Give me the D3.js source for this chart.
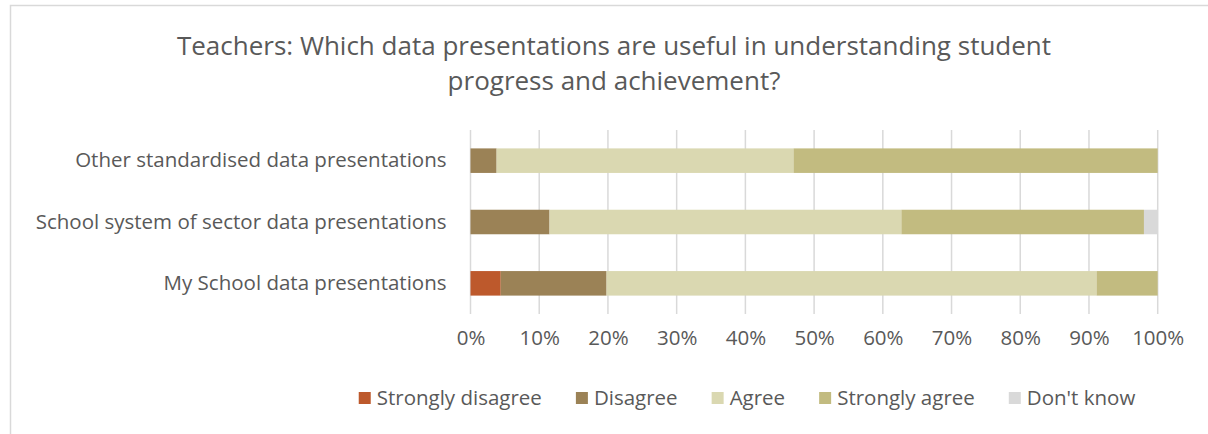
<!DOCTYPE html>
<html>
<head>
<meta charset="utf-8">
<script src="https://cdn.jsdelivr.net/npm/d3@7"></script>
<style>
  body { margin: 0; background: #fff; }
  svg { display: block; font-family: "Open Sans", sans-serif; }
</style>
</head>
<body>
<svg width="1208" height="434"></svg>
<script>
const categories = [
  "Other standardised data presentations",
  "School system of sector data presentations",
  "My School data presentations"
]
const seriesNames = ["Strongly disagree", "Disagree", "Agree", "Strongly agree", "Don't know"]
const stronglyDisagree = [0, 0, 4.4]
const disagree = [3.8, 11.5, 15.4]
const agree = [43.2, 51.2, 71.3]
const stronglyAgree = [53.0, 35.3, 8.9]
const dontKnow = [0, 2.0, 0]
const xTicks = [0, 10, 20, 30, 40, 50, 60, 70, 80, 90, 100]
const colors = ["#bd592c", "#9b8256", "#dad8b1", "#c2bb80", "#d9d9d9"]

const svg = d3.select("svg")
const width = +svg.attr("width")
const height = +svg.attr("height")
const textColor = "#595959"
const labelSize = "20.5px"

// chart frame
svg.append("path")
  .attr("d", `M10.5,${height} V5.5 H${width}`)
  .attr("fill", "none")
  .attr("stroke", "#d9d9d9")
  .attr("stroke-width", 1.5)

// title
const title = svg.append("text")
  .attr("text-anchor", "middle")
  .attr("fill", textColor)
  .style("font-size", "26px")
title.append("tspan").attr("x", 614).attr("y", 55)
  .text("Teachers: Which data presentations are useful in understanding student")
title.append("tspan").attr("x", 614).attr("y", 90)
  .text("progress and achievement?")

const margin = { left: 470.5, right: 1157.7, top: 130, bottom: 314 }

const x = d3.scaleLinear().domain([0, 100]).range([margin.left, margin.right])
const y = d3.scaleBand().domain(categories).range([margin.top, margin.bottom]).paddingInner(0.6).paddingOuter(0.3)

const rows = categories.map((c, i) => ({
  category: c,
  "Strongly disagree": stronglyDisagree[i],
  "Disagree": disagree[i],
  "Agree": agree[i],
  "Strongly agree": stronglyAgree[i],
  "Don't know": dontKnow[i]
}))
const stacked = d3.stack().keys(seriesNames)(rows)

// gridlines
svg.append("g")
  .selectAll("line")
  .data(xTicks)
  .join("line")
  .attr("x1", d => x(d)).attr("x2", d => x(d))
  .attr("y1", margin.top).attr("y2", margin.bottom)
  .attr("stroke", "#d9d9d9")
  .attr("stroke-width", 1.5)

// bars
svg.append("g")
  .selectAll("g")
  .data(stacked)
  .join("g")
  .attr("fill", (d, i) => colors[i])
  .selectAll("rect")
  .data(d => d)
  .join("rect")
  .attr("x", d => x(d[0]))
  .attr("width", d => x(d[1]) - x(d[0]))
  .attr("y", d => y(d.data.category))
  .attr("height", y.bandwidth())

// x axis labels
const xAxis = svg.append("g")
  .attr("transform", `translate(0, ${margin.bottom + 8})`)
  .call(d3.axisBottom(x).tickValues(xTicks).tickFormat(d => d + "%").tickSize(0).tickPadding(8))
xAxis.select(".domain").remove()
xAxis.selectAll("text").attr("fill", textColor).style("font-size", labelSize).style("font-family", "'Open Sans', sans-serif")

// y axis labels
const yAxis = svg.append("g")
  .attr("transform", `translate(${margin.left - 24}, 0)`)
  .call(d3.axisLeft(y).tickSize(0).tickPadding(0))
yAxis.select(".domain").remove()
yAxis.selectAll("text").attr("fill", textColor).style("font-size", labelSize).style("font-family", "'Open Sans', sans-serif")

// legend
const legend = svg.append("g").attr("transform", "translate(0, 398)")
const items = legend.selectAll("g")
  .data(seriesNames)
  .join("g")
items.append("rect")
  .attr("width", 12).attr("height", 12).attr("y", -6)
  .attr("fill", (d, i) => colors[i])
items.append("text")
  .attr("x", 18).attr("dy", "0.35em")
  .attr("fill", textColor)
  .style("font-size", labelSize)
  .text(d => d)
let pos = 0
const gap = 34
const widths = []
items.each(function () {
  widths.push(18 + this.querySelector("text").getComputedTextLength())
})
const total = d3.sum(widths) + gap * (widths.length - 1)
pos = 747 - total / 2
items.attr("transform", (d, i) => {
  const t = `translate(${pos}, 0)`
  pos += widths[i] + gap
  return t
})
</script>
</body>
</html>
